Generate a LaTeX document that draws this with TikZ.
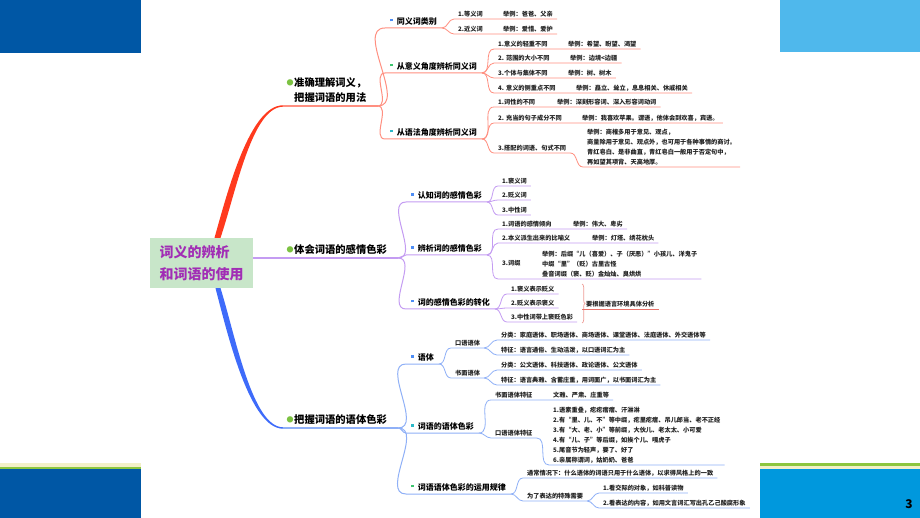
\documentclass[tikz,border=0pt]{standalone}
\usepackage{fontspec}
\setmainfont{Noto Sans CJK SC}
\usepackage{xcolor}
\usetikzlibrary{calc, decorations.pathreplacing}
\definecolor{barDark}{HTML}{0057A5}
\definecolor{barCyan}{HTML}{0098DD}
\definecolor{barLight}{HTML}{4FB8EC}
\definecolor{stripeCream}{HTML}{F3F0C8}
\definecolor{stripeGreen}{HTML}{8DC63F}
\definecolor{rootFill}{HTML}{C8E6C9}
\definecolor{rootText}{HTML}{A12DB5}
\definecolor{redBranch}{HTML}{FF3A1E}
\definecolor{redLine}{HTML}{FF8F80}
\definecolor{sumRed}{HTML}{E8736B}
\definecolor{purpleLine}{HTML}{C49CF2}
\definecolor{blueBranch}{HTML}{3E6BFA}
\definecolor{blueLine}{HTML}{8FB0F7}
\definecolor{dotGreen}{HTML}{7CC242}
\definecolor{flagBlue}{HTML}{4D8DF5}
\definecolor{flagGreen}{HTML}{3CC46E}
\definecolor{flagTeal}{HTML}{2BB8C8}
\definecolor{leafText}{HTML}{222222}
\newcommand{\flagmark}[1]{\raisebox{3pt}{\textcolor{#1}{\rule{2.6pt}{2.6pt}}}\hspace{4pt}}
\newcommand{\dotmark}{\llap{\raisebox{1pt}{\textcolor{dotGreen}{\fontsize{7}{7}\selectfont ●}}\hspace{0.5pt}}}

\begin{document}
\begin{tikzpicture}[x=1pt, y=-1pt,
  rootbox/.style={rectangle, fill=rootFill, text=rootText, minimum width=103pt,
    minimum height=50pt, align=left, font=\fontsize{14}{22}\selectfont\bfseries},
  lvone/.style={anchor=south west, inner xsep=11pt, inner ysep=3pt, align=left,
    font=\fontsize{10.3}{15}\selectfont\bfseries},
  lvtwo/.style={anchor=south west, inner xsep=5pt, inner ysep=2.5pt,
    font=\fontsize{8}{10}\selectfont\bfseries},
  leaf/.style={anchor=south west, inner xsep=4pt, inner ysep=1.6pt, align=left,
    text=leafText, font=\fontsize{6.2}{10}\selectfont\bfseries},
  redln/.style={draw=redLine, line width=0.8pt},
  purpln/.style={draw=purpleLine, line width=0.8pt},
  bluln/.style={draw=blueLine, line width=0.8pt},
]

\useasboundingbox (0,0) rectangle (920,518);
\fill[white] (0,0) rectangle (920,518);

% Slide frame
\fill[barDark] (0,0) rectangle (141,53);
\fill[barLight] (780,0) rectangle (920,52);
\fill[barDark] (0,469) rectangle (141,518);
\fill[stripeCream] (0,463) rectangle (141,467);
\fill[stripeGreen] (0,467) rectangle (141,469);
\fill[barCyan] (760,469) rectangle (920,518);
\fill[stripeGreen] (760,463) rectangle (920,466);
\fill[stripeCream] (760,466) rectangle (920,469);
\node[font=\fontsize{12}{12}\selectfont\bfseries] (pnum) at (909,504) {3};

% Root
\node[rootbox] (root) at (201.5,263) {词义的辨析\\和词语的使用};

% First level
\node[lvone] (t1) at (283,106) {\dotmark 准确理解词义，\\把握词语的用法};
\node[lvone] (t2) at (283,258) {\dotmark 体会词语的感情色彩};
\node[lvone] (t3) at (283,428) {\dotmark 把握词语的语体色彩};

\fill[redBranch] ($(root.north)+(13,0)$) .. controls (228,190) and (250,105.3) .. ($(t1.south west)+(0,-0.7)$)
  -- ($(t1.south west)+(0,0.7)$) .. controls (252,107) and (236,192) .. ($(root.north)+(19,0)$) -- cycle;
\fill[blueBranch] ($(root.south)+(14,0)$) .. controls (228,336) and (250,428.7) .. ($(t3.south west)+(0,0.7)$)
  -- ($(t3.south west)+(0,-0.7)$) .. controls (252,427) and (235,334) .. ($(root.south)+(19,0)$) -- cycle;
\draw[purpleLine, line width=1.3pt] ($(root.east)+(0,-5)$) -- (t2.south west);

\draw[redln, line width=1.3pt] (t1.south west) -- (t1.south east);
\draw[purpln, line width=1.3pt] (t2.south west) -- (t2.south east);
\draw[bluln, line width=1.3pt] (t3.south west) -- (t3.south east);

% Second level
\node[lvtwo] (a1) at (385,28) {\flagmark{flagBlue}同义词类别};
\node[lvtwo] (a2) at (385,73) {\flagmark{flagGreen}从意义角度辨析同义词};
\node[lvtwo] (a3) at (385,139) {\flagmark{flagTeal}从语法角度辨析同义词};
\node[lvtwo] (b1) at (406,202) {\flagmark{flagBlue}认知词的感情色彩};
\node[lvtwo] (b2) at (406,255) {\flagmark{flagBlue}辨析词的感情色彩};
\node[lvtwo] (b3) at (406,309) {\flagmark{flagBlue}词的感情色彩的转化};
\node[lvtwo] (c1) at (406,364) {\flagmark{flagBlue}语体};
\node[lvtwo] (c2) at (406,433) {\flagmark{flagTeal}词语的语体色彩};
\node[lvtwo] (c3) at (406,494) {\flagmark{flagGreen}词语语体色彩的运用规律};

\foreach \k in {a1,a2,a3}
  \draw[redln, line width=1pt] (t1.south east) to[out=0,in=180] (\k.south west) -- (\k.south east);
\foreach \k in {b1,b2,b3}
  \draw[purpln, line width=1pt] (t2.south east) to[out=0,in=180] (\k.south west) -- (\k.south east);
\foreach \k in {c1,c2,c3}
  \draw[bluln, line width=1pt] (t3.south east) to[out=0,in=180] (\k.south west) -- (\k.south east);

% Branch: synonyms
\node[leaf] (a11) at (454,19) {1.等义词};
\node[leaf] (ea11) at (499,19) {举例：爸爸、父亲};
\node[leaf] (a12) at (454,34) {2.近义词};
\node[leaf] (ea12) at (499,34) {举例：爱惜、爱护};
\node[leaf] (a21) at (494,49) {1.意义的轻重不同};
\node[leaf] (ea21) at (564,49) {举例：希望、盼望、渴望};
\node[leaf] (a22) at (494,63) {2. 范围的大小不同};
\node[leaf] (ea22) at (566,63) {举例：边境<边疆};
\node[leaf] (a23) at (494,78) {3.个体与集体不同};
\node[leaf] (ea23) at (564,78) {举例：树、树木};
\node[leaf] (a24) at (494,93) {4. 意义的侧重点不同};
\node[leaf] (ea24) at (572,93) {举例：矗立、耸立，息息相关、休戚相关};
\node[leaf] (a31) at (494,107) {1.词性的不同};
\node[leaf] (ea31) at (553,107) {举例：深刻形容词、深入形容词动词};
\node[leaf] (a32) at (494,123) {2. 充当的句子成分不同};
\node[leaf] (ea32) at (578,123) {举例：我喜欢苹果。谓语，他体会到欢喜，宾语。};
\node[leaf] (a33) at (494,153) {3.搭配的词语、句式不同};
\node[leaf] (ea33) at (583,167) {举例：商榷多用于意见、观点，\\商量除用于意见、观点外，也可用于各种事情的商讨。\\青红皂白、是非曲直，青红皂白一般用于否定句中，\\再如望其项背、天高地厚。};

\foreach \k in {a11,a12}
  \draw[redln] (a1.south east) to[out=0,in=180] (\k.south west) -- (e\k.south east);
\foreach \k in {a21,a22,a23,a24}
  \draw[redln] (a2.south east) to[out=0,in=180] (\k.south west) -- (e\k.south east);
\foreach \k in {a31,a32}
  \draw[redln] (a3.south east) to[out=0,in=180] (\k.south west) -- (e\k.south east);
\draw[redln] (a3.south east) to[out=0,in=180] (a33.south west) -- (a33.south east)
  to[out=0,in=180] (ea33.south west) -- (ea33.south east);

% Branch: emotional colour
\node[leaf] (b11) at (498,186) {1.褒义词};
\node[leaf] (b12) at (498,200) {2.贬义词};
\node[leaf] (b13) at (498,215) {3.中性词};
\node[leaf] (b21) at (498,229) {1.词语的感情倾向};
\node[leaf] (eb21) at (569,229) {举例：伟大、卑劣};
\node[leaf] (b22) at (498,243) {2.本义派生出来的比喻义};
\node[leaf] (eb22) at (588,243) {举例：灯塔、绣花枕头};
\node[leaf, anchor=west] (b23) at (498,263) {3.词缀};
\node[leaf] (eb23) at (538,279) {举例：后缀“儿（喜爱）、子（厌恶）”小孩儿、洋鬼子\\中缀“里”（贬）古里古怪\\叠音词缀（褒、贬）金灿灿、臭烘烘};
\node[leaf] (b31) at (507,294) {1.褒义表示贬义};
\node[leaf] (b32) at (507,308) {2.贬义表示褒义};
\node[leaf] (b33) at (507,322) {3.中性词带上褒贬色彩};
\node[leaf] (sb3) at (582,309) {要根据语言环境具体分析};

\foreach \k in {b11,b12,b13}
  \draw[purpln] (b1.south east) to[out=0,in=180] (\k.south west) -- (\k.south east);
\foreach \k in {b21,b22}
  \draw[purpln] (b2.south east) to[out=0,in=180] (\k.south west) -- (e\k.south east);
\draw[purpln] (b2.south east) to[out=0,in=180] (b23.west |- eb23.south) -- (eb23.south east);
\foreach \k in {b31,b32,b33}
  \draw[purpln] (b3.south east) to[out=0,in=180] (\k.south west) -- (\k.south east);
\draw[sumRed!70, line width=0.7pt, decorate, decoration={brace, amplitude=3pt}]
  ($(b33.south east)+(5,-38)$) -- ($(b33.south east)+(5,1)$);
\draw[sumRed, line width=0.8pt] (sb3.south west) -- (sb3.south east);

% Branch: register
\node[leaf] (c11) at (451,348) {口语语体};
\node[leaf] (c12) at (451,378) {书面语体};
\node[leaf] (c111) at (497,340) {分类：家庭语体、职场语体、商场语体、课堂语体、法庭语体、外交语体等};
\node[leaf] (c112) at (497,355) {特征：语言通俗、生动活泼，以口语词汇为主};
\node[leaf] (c121) at (497,370) {分类：公文语体、科技语体、政论语体、公文语体};
\node[leaf] (c122) at (497,385) {特征：语言典雅、含蓄庄重，用词面广，以书面词汇为主};
\node[leaf] (c21) at (491,400) {书面语体特征};
\node[leaf] (ec21) at (549,400) {文雅、严肃、庄重等};
\node[leaf] (c22) at (491,438) {口语语体特征};
\node[leaf] (ec22) at (549,465) {1.语素重叠，疙疙瘩瘩、汗淋淋\\2.有“里、儿、不”等中缀，疙里疙瘩、吊儿郎当、老不正经\\3.有“大、老、小”等前缀，大伙儿、老太太、小可爱\\4.有“儿、子”等后缀，如挨个儿、嘎虎子\\5.尾音节为轻声，要了、好了\\6.亲属称谓词，姑奶奶、爸爸};
\node[leaf] (c31) at (523,478) {通常情况下：什么语体的词语只用于什么语体，以求得风格上的一致};
\node[leaf] (c32) at (523,501) {为了表达的特殊需要};
\node[leaf] (c321) at (599,493) {1.看交际的对象，如科普读物};
\node[leaf] (c322) at (599,508) {2.看表达的内容，如用文言词汇写出孔乙己酸腐形象};

\foreach \k in {c11,c12}
  \draw[bluln] (c1.south east) to[out=0,in=180] (\k.south west) -- (\k.south east);
\foreach \k in {c111,c112}
  \draw[bluln] (c11.south east) to[out=0,in=180] (\k.south west) -- (\k.south east);
\foreach \k in {c121,c122}
  \draw[bluln] (c12.south east) to[out=0,in=180] (\k.south west) -- (\k.south east);
\draw[bluln] (c2.south east) to[out=0,in=180] (c21.south west) -- (ec21.south east);
\draw[bluln] (c2.south east) to[out=0,in=180] (c22.south west) -- (c22.south east)
  to[out=0,in=180] (ec22.south west) -- (ec22.south east);
\foreach \k in {c31,c32}
  \draw[bluln] (c3.south east) to[out=0,in=180] (\k.south west) -- (\k.south east);
\foreach \k in {c321,c322}
  \draw[bluln] (c32.south east) to[out=0,in=180] (\k.south west) -- (\k.south east);

\end{tikzpicture}
\end{document}
